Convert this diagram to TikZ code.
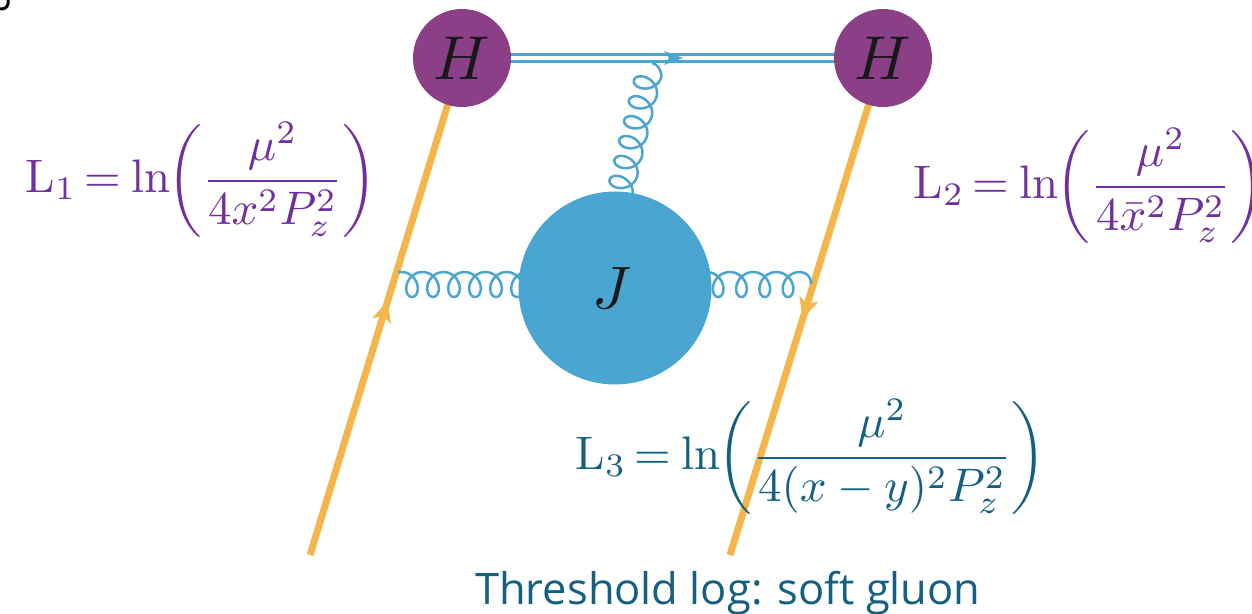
\documentclass[tikz,border=0pt]{standalone}
\usepackage{amsmath}
\usepackage{fontspec}
\newfontfamily\labelfont{Open Sans}
\usetikzlibrary{decorations.markings}
\pgfdeclarelayer{lines}
\pgfsetlayers{lines,main}
\definecolor{hpurple}{HTML}{8A3F87}
\definecolor{jblue}{HTML}{4BA5D1}
\definecolor{quark}{HTML}{F4B54A}
\definecolor{logpurple}{HTML}{7030A0}
\definecolor{logteal}{HTML}{156082}
\newcommand{\qtip}{\fill[quark] (6pt,0pt) -- (-15pt,10pt) -- (-9pt,0pt) -- (-15pt,-10pt) -- cycle;}
\newcommand{\logeq}[2]{$\displaystyle \mathrm{L}_{#1}\mkern-2mu=\mkern-1mu\ln\mkern-4mu\left(\frac{\mu^2}{#2}\right)$}
\tikzset{
  x=1pt,y=-1pt,
  blob/.style={circle,inner sep=0pt,text=black!90},
  quarkline/.style={draw=quark,line width=7pt},
  gluonline/.style={draw=jblue,line width=2.5pt,smooth},
  wilson/.style={draw=jblue,line width=2.5pt},
  eq/.style={anchor=west,inner sep=0pt,scale=4.7}
}
\begin{document}
\begin{tikzpicture}
\useasboundingbox (0,0) rectangle (1252,613);
\coordinate (q1) at (310,555);
\coordinate (q2) at (730,555);
\coordinate (g1) at (398,272);
\coordinate (g2) at (811,284);
\coordinate (g3) at (652,63);
\node[blob,fill=hpurple,minimum size=98pt] (H1) at (462,58) {\scalebox{6.2}{$H$}};
\node[blob,fill=hpurple,minimum size=98pt] (H2) at (883,58) {\scalebox{6.2}{$H$}};
\node[blob,fill=jblue,minimum size=193pt] (J) at (615,288) {\hspace*{-6pt}\scalebox{6}{$J$}};
\begin{pgfonlayer}{lines}
\draw[quarkline,postaction={decorate},decoration={markings,mark=at position 0.499 with {\qtip}}] (q1) -- (H1.center);
\draw[quarkline,postaction={decorate},decoration={markings,mark=at position 0.513 with {\qtip}}] (H2.center) -- (q2);
\draw[wilson] ([yshift=3.5pt]H1.center) -- ([yshift=3.5pt]H2.center);
\draw[wilson] ([yshift=-3.5pt]H1.center) -- ([yshift=-3.5pt]H2.center);
\fill[jblue] (683,58) -- (664,51) -- (669,58) -- (664,65) -- cycle;
\draw[gluonline] (g1) -- (401.5,272)
  plot[domain=180:2340,samples=220] ({401.5+(\x-180)/360*21-10.5*sin(\x)},{284.5+12.5*cos(\x)});
\draw[gluonline] plot[domain=180:1620,samples=150] ({706.5+(\x-180)/360*23.3-10.5*sin(\x)},{284.5+12.5*cos(\x)})
  .. controls (806,272) and (811,276) .. (g2);
\draw[gluonline] (g3) .. controls (657,64) and (661,69) .. (661.5,76.5)
  plot[domain=180:2340,samples=220]
  ({648.9-0.237*((\x-180)/360*20.5-10.5*sin(\x))-12.6*cos(\x)},
   {73.4+0.971*((\x-180)/360*20.5-10.5*sin(\x))-3.1*cos(\x)});
\end{pgfonlayer}
\node[eq,text=logpurple] (L1) at (25,180) {\logeq{1}{4x^2P_z^2}};
\node[eq,text=logpurple] (L2) at (913,186) {\logeq{2}{4\bar{x}^2P_z^2}};
\node[eq,text=logteal] (L3) at (575,457) {\logeq{3}{4(x-y)^2P_z^2}};
\node[anchor=base west,inner sep=0pt,text=logteal,font=\labelfont\fontsize{43.5}{48}\selectfont] (T) at (475,604) {Threshold log: soft gluon};
\draw[black,line width=3pt] (0,9) .. controls (4,9) and (7,8) .. (8,4) -- (8,0);
\end{tikzpicture}
\end{document}
